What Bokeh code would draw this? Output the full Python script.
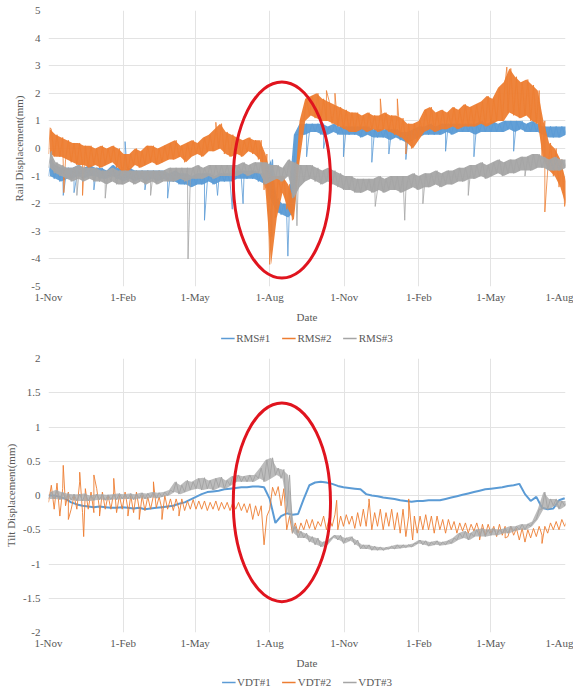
import pandas as pd
from bokeh.plotting import figure
from bokeh.models import (FixedTicker, Legend, LegendItem, Range1d,
                          CustomJSTickFormatter)
from bokeh.layouts import column
from bokeh.embed import file_html
from bokeh.resources import INLINE

# ---------------- data ----------------
START_DATE = "2016-11-01"
END_DATE = "2018-08-01"

tick_dates = ["2016-11-01", "2017-02-01", "2017-05-01", "2017-08-01",
              "2017-11-01", "2018-02-01", "2018-05-01", "2018-08-01"]
tick_labels = ["1-Nov", "1-Feb", "1-May", "1-Aug",
               "1-Nov", "1-Feb", "1-May", "1-Aug"]

rms_yticks = [-5, -4, -3, -2, -1, 0, 1, 2, 3, 4, 5]
vdt_yticks = [-2, -1.5, -1, -0.5, 0, 0.5, 1, 1.5, 2]

rms_names = ["RMS#1", "RMS#2", "RMS#3"]
vdt_names = ["VDT#1", "VDT#2", "VDT#3"]

# weekly (from 1-Nov) lower / upper envelope of each noisy record
rms1_lo = [-1.0, -1.1, -1.2, -1.1, -1.1, -1.0, -1.1, -1.0, -1.0, -1.1,
           -1.1, -1.0, -1.1, -1.2, -1.1, -1.2, -1.1, -1.2, -1.1, -1.2,
           -1.1, -1.2, -1.2, -1.3, -1.3, -1.4, -1.3, -1.3, -1.2, -1.3,
           -1.2, -1.2, -1.2, -1.1, -1.1, -1.1, -1.1, -1.2, -1.3, -1.9,
           -2.3, -2.4, -2.5, -2.3, 0.5, 0.5, 0.6, 0.6, 0.5, 0.5,
           0.6, 0.5, 0.5, 0.5, 0.5, 0.4, 0.5, 0.4, 0.4, 0.4,
           0.3, 0.4, 0.3, 0.2, 0.3, 0.4, 0.5, 0.5, 0.5, 0.5,
           0.6, 0.5, 0.6, 0.6, 0.6, 0.5, 0.6, 0.6, 0.6, 0.6,
           0.6, 0.7, 0.6, 0.7, 0.6, 0.6, 0.6, 0.5, 0.4, 0.4,
           0.4, 0.5]
rms1_hi = [-0.4, -0.6, -0.7, -0.7, -0.7, -0.6, -0.7, -0.6, -0.7, -0.7,
           -0.8, -0.6, -0.7, -0.8, -0.7, -0.8, -0.8, -0.8, -0.8, -0.8,
           -0.8, -0.9, -0.8, -0.9, -0.9, -1.0, -0.9, -0.9, -0.9, -1.0,
           -0.9, -0.9, -0.9, -0.8, -0.8, -0.8, -0.8, -0.9, -0.9, -0.4,
           -1.8, -2.0, -2.0, 0.5, 0.9, 0.9, 0.9, 0.9, 0.9, 0.8,
           0.9, 0.8, 0.8, 0.8, 0.8, 0.8, 0.8, 0.7, 0.7, 0.7,
           0.7, 0.7, 0.6, 0.6, 0.7, 0.8, 0.8, 0.9, 0.8, 0.9,
           0.9, 0.9, 0.9, 0.9, 0.9, 0.9, 1.0, 0.9, 1.0, 0.9,
           1.0, 1.0, 1.0, 1.0, 0.9, 1.0, 0.9, 0.8, 0.8, 0.8,
           0.8, 0.8]
rms1_spike_wk = [2.6, 4.5, 8.0, 13.5, 17.0, 21.0, 27.5, 29.8, 32.4, 34.3,
                 39.4, 42.2, 45.5, 48.5, 52.0, 57.0, 60.0, 63.0, 70.0, 75.0, 82.0]
rms1_spike_val = [-1.7, -1.6, -1.5, 0.25, -1.5, -1.8, -2.6, -1.7, -2.2, -2.0,
                  -3.2, -3.9, -0.3, 0.0, -0.3, -0.5, -0.2, -0.4, -0.1, -0.3, -0.1]

rms2_lo = [-0.2, -0.3, -0.3, -0.4, -0.5, -0.6, -0.6, -0.7, -0.6, -0.7,
           -0.6, -0.5, -0.7, -0.9, -0.8, -0.6, -0.7, -0.6, -0.5, -0.6,
           -0.5, -0.4, -0.4, -0.3, -0.5, -0.3, -0.2, -0.3, -0.1, -0.1,
           0.0, -0.2, -0.3, -0.2, -0.3, -0.1, -0.2, -0.4, -1.5, -4.2,
           -2.5, -1.6, -2.2, -2.6, -0.5, 1.0, 1.2, 1.1, 1.0, 1.0,
           0.9, 0.8, 0.7, 0.6, 0.6, 0.7, 0.6, 0.7, 0.6, 0.7,
           0.6, 0.5, 0.4, 0.2, 0.0, 0.3, 0.6, 0.7, 0.6, 0.7,
           0.7, 0.8, 0.7, 0.8, 0.8, 0.8, 0.9, 0.8, 0.9, 1.0,
           1.0, 1.3, 1.2, 1.1, 1.2, 1.0, 0.9, -0.4, -0.8, -1.0,
           -1.4, -2.1]
rms2_hi = [0.7, 0.5, 0.4, 0.3, 0.2, 0.2, 0.1, 0.1, 0.0, 0.1,
           0.0, 0.1, 0.0, -0.2, -0.2, 0.0, -0.1, 0.1, 0.1, 0.0,
           0.1, 0.2, 0.3, 0.1, 0.2, 0.3, 0.2, 0.4, 0.5, 0.7,
           0.9, 0.6, 0.5, 0.4, 0.3, 0.4, 0.3, 0.3, -0.2, -1.0,
           -1.0, -1.0, -1.3, -1.8, 1.0, 1.8, 1.9, 2.0, 1.8, 1.7,
           1.6, 1.5, 1.4, 1.3, 1.3, 1.2, 1.3, 1.2, 1.2, 1.3,
           1.2, 1.2, 1.1, 0.9, 0.9, 1.0, 1.4, 1.5, 1.3, 1.4,
           1.3, 1.5, 1.4, 1.6, 1.5, 1.6, 1.7, 1.9, 1.8, 2.2,
           2.4, 2.9, 2.6, 2.4, 2.5, 2.3, 2.1, 1.0, 0.2, 0.0,
           -0.4, -1.2]
rms2_spike_wk = [0.3, 2.7, 6.0, 13.0, 29.5, 49.0, 50.5, 58.5, 61.5, 63.0, 80.8, 87.5]
rms2_spike_val = [0.75, -1.6, -1.7, -1.0, 0.95, 2.1, 2.0, 1.8, 1.8, -0.2, 2.95, -2.3]

rms3_lo = [-0.7, -0.9, -1.0, -1.1, -1.2, -1.1, -1.2, -1.1, -1.2, -1.2,
           -1.3, -1.2, -1.3, -1.3, -1.2, -1.3, -1.2, -1.3, -1.2, -1.3,
           -1.2, -1.2, -1.2, -1.1, -1.2, -1.1, -1.1, -1.1, -1.0, -1.1,
           -1.0, -1.0, -1.0, -1.0, -0.9, -1.0, -0.9, -0.9, -1.3, -1.2,
           -1.1, -1.2, -1.0, -1.8, -1.4, -1.2, -1.1, -1.2, -1.3, -1.2,
           -1.3, -1.4, -1.5, -1.5, -1.6, -1.6, -1.5, -1.6, -1.5, -1.6,
           -1.5, -1.5, -1.6, -1.5, -1.4, -1.5, -1.4, -1.4, -1.3, -1.4,
           -1.3, -1.3, -1.2, -1.2, -1.1, -1.1, -1.0, -1.1, -1.0, -0.9,
           -1.0, -0.9, -0.9, -0.8, -0.8, -0.8, -0.7, -0.7, -0.8, -0.8,
           -0.8, -0.7]
rms3_hi = [-0.1, -0.5, -0.6, -0.7, -0.7, -0.6, -0.7, -0.7, -0.7, -0.8,
           -0.8, -0.7, -0.8, -0.8, -0.8, -0.8, -0.8, -0.8, -0.8, -0.8,
           -0.8, -0.7, -0.7, -0.7, -0.7, -0.7, -0.6, -0.7, -0.6, -0.6,
           -0.6, -0.6, -0.6, -0.6, -0.5, -0.6, -0.5, -0.5, -0.5, -0.6,
           -0.6, -0.7, -0.4, -0.5, -0.6, -0.6, -0.6, -0.7, -0.8, -0.7,
           -0.8, -0.9, -1.0, -1.0, -1.1, -1.1, -1.1, -1.1, -1.0, -1.1,
           -1.0, -1.0, -1.0, -1.0, -0.9, -1.0, -0.9, -0.9, -0.8, -0.9,
           -0.8, -0.8, -0.7, -0.7, -0.6, -0.6, -0.5, -0.6, -0.5, -0.4,
           -0.5, -0.4, -0.4, -0.3, -0.3, -0.2, -0.2, -0.3, -0.4, -0.3,
           -0.4, -0.4]
rms3_spike_wk = [5.0, 10.0, 18.0, 24.6, 43.8, 57.6, 62.8, 66.0, 74.0, 84.0]
rms3_spike_val = [-1.7, -1.8, -1.7, -4.0, -2.8, -2.1, -2.6, -2.0, -1.7, -1.0]

vdt1_val = [0.0, 0.0, -0.02, -0.05, -0.1, -0.13, -0.15, -0.16, -0.17, -0.16,
            -0.17, -0.18, -0.18, -0.17, -0.18, -0.19, -0.18, -0.2, -0.19, -0.18,
            -0.17, -0.16, -0.15, -0.12, -0.1, -0.06, -0.02, 0.02, 0.05, 0.06,
            0.07, 0.09, 0.1, 0.11, 0.12, 0.12, 0.13, 0.13, 0.12, -0.05,
            -0.4, -0.3, -0.26, -0.28, -0.27, -0.05, 0.15, 0.19, 0.2, 0.19,
            0.17, 0.14, 0.12, 0.11, 0.1, 0.09, 0.02, 0.0, -0.01, -0.03,
            -0.04, -0.05, -0.07, -0.08, -0.09, -0.08, -0.08, -0.07, -0.07, -0.07,
            -0.05, -0.03, -0.01, 0.01, 0.03, 0.05, 0.07, 0.09, 0.1, 0.11,
            0.12, 0.14, 0.15, 0.17, 0.02, -0.08, -0.02, -0.18, -0.2, -0.19,
            -0.07, -0.04]

vdt2_lo = [-0.1, -0.2, -0.3, -0.15, -0.2, -0.2, -0.25, -0.2, -0.25, -0.2,
           -0.2, -0.2, -0.25, -0.2, -0.2, -0.25, -0.2, -0.22, -0.2, -0.18,
           -0.2, -0.2, -0.22, -0.2, -0.22, -0.2, -0.2, -0.2, -0.22, -0.2,
           -0.22, -0.2, -0.22, -0.2, -0.22, -0.25, -0.35, -0.3, -0.72, -0.2,
           0.0, -0.15, -0.5, -0.55, -0.55, -0.5, -0.48, -0.5, -0.45, -0.5,
           -0.45, -0.5, -0.45, -0.42, -0.48, -0.45, -0.45, -0.5, -0.45, -0.5,
           -0.45, -0.5, -0.55, -0.6, -0.5, -0.55, -0.5, -0.5, -0.55, -0.5,
           -0.55, -0.5, -0.55, -0.52, -0.55, -0.52, -0.55, -0.58, -0.55, -0.6,
           -0.58, -0.6, -0.58, -0.65, -0.68, -0.62, -0.6, -0.58, -0.55, -0.5,
           -0.5, -0.45]
vdt2_hi = [0.15, 0.18, 0.1, 0.05, 0.0, 0.2, 0.1, 0.05, 0.1, 0.05,
           0.0, 0.05, 0.0, 0.05, 0.0, 0.05, 0.0, -0.02, 0.0, -0.02,
           0.0, -0.05, -0.05, -0.05, -0.08, -0.06, -0.08, -0.08, -0.1, -0.08,
           -0.1, -0.1, -0.1, -0.1, -0.12, -0.12, -0.15, -0.15, -0.3, 0.12,
           0.13, 0.1, -0.3, -0.4, -0.4, -0.35, -0.35, -0.38, -0.3, -0.33,
           -0.28, -0.3, -0.28, -0.3, -0.25, -0.2, -0.1, -0.25, -0.2, -0.25,
           -0.2, -0.25, -0.2, -0.3, -0.3, -0.3, -0.28, -0.3, -0.3, -0.35,
           -0.35, -0.38, -0.4, -0.4, -0.42, -0.4, -0.42, -0.42, -0.45, -0.42,
           -0.45, -0.45, -0.48, -0.48, -0.5, -0.48, -0.45, -0.45, -0.4, -0.38,
           -0.35, -0.35]
vdt2_spike_wk = [2.6, 3.5, 5.5, 6.2, 8.0, 9.0, 11.5, 14.0, 16.0, 18.5, 20.0, 23.0,
                 50.8, 56.5, 63.5, 64.2, 76.0, 80.5, 87.0]
vdt2_spike_val = [0.44, -0.35, 0.34, -0.6, 0.3, -0.3, 0.25, -0.3, -0.35, 0.2, -0.35, -0.3,
                  -0.07, -0.05, -0.05, -0.65, -0.65, -0.62, -0.7]

vdt3_lo = [-0.05, -0.05, -0.06, -0.05, -0.07, -0.08, -0.08, -0.08, -0.07, -0.06,
           -0.07, -0.06, -0.06, -0.05, -0.05, -0.06, -0.04, -0.05, -0.03, -0.04,
           -0.02, 0.0, 0.05, 0.02, 0.05, 0.08, 0.1, 0.08, 0.1, 0.08,
           0.12, 0.1, 0.15, 0.2, 0.2, 0.2, 0.2, 0.25, 0.2, 0.25,
           0.3, 0.25, -0.25, -0.55, -0.62, -0.62, -0.68, -0.72, -0.75, -0.72,
           -0.62, -0.65, -0.7, -0.66, -0.72, -0.78, -0.78, -0.8, -0.8, -0.8,
           -0.78, -0.78, -0.77, -0.76, -0.75, -0.7, -0.72, -0.74, -0.72, -0.73,
           -0.72, -0.7, -0.65, -0.62, -0.65, -0.6, -0.6, -0.6, -0.58, -0.58,
           -0.55, -0.55, -0.52, -0.5, -0.5, -0.45, -0.35, -0.2, -0.2, -0.15,
           -0.2, -0.15]
vdt3_hi = [0.05, 0.08, 0.05, 0.03, 0.02, 0.02, 0.03, 0.0, 0.02, 0.02,
           0.01, 0.02, 0.03, 0.02, 0.03, 0.02, 0.04, 0.03, 0.05, 0.04,
           0.05, 0.08, 0.2, 0.15, 0.22, 0.2, 0.25, 0.26, 0.22, 0.25,
           0.27, 0.22, 0.28, 0.3, 0.28, 0.3, 0.3, 0.4, 0.52, 0.55,
           0.4, 0.38, 0.3, -0.45, -0.52, -0.55, -0.6, -0.62, -0.68, -0.65,
           -0.58, -0.58, -0.62, -0.6, -0.65, -0.72, -0.72, -0.74, -0.75, -0.76,
           -0.74, -0.72, -0.72, -0.72, -0.7, -0.65, -0.66, -0.68, -0.66, -0.68,
           -0.66, -0.62, -0.55, -0.52, -0.55, -0.5, -0.48, -0.5, -0.48, -0.5,
           -0.48, -0.45, -0.45, -0.42, -0.42, -0.38, -0.2, 0.05, -0.05, -0.05,
           -0.08, -0.08]

# highlighted period (red ellipses)
highlight_date = "2017-08-16"
highlight_span_days = 120
rms_highlight = (-1.14, 7.1)   # centre value, height
vdt_highlight = (-0.10, 2.9)

# ---------------- drawing ----------------
start = pd.Timestamp(START_DATE)


def day_of(d):
    return (pd.Timestamp(d) - start).days


x_end = day_of(END_DATE)
tick_days = [day_of(d) for d in tick_dates]
wk_x = [i * 7.0 for i in range(len(vdt1_val))]

FONT = "Liberation Serif"
TXT = "#595959"
GRID = "#E3E3E3"
BLUE, ORANGE, GRAY = "#5B9BD5", "#ED7D31", "#A5A5A5"
COLORS = [BLUE, ORANGE, GRAY]
RED = "#E0141E"
W = 573


def zigzag(lo, hi, spk_w=(), spk_v=()):
    pts = []
    for i, (a, b) in enumerate(zip(lo, hi)):
        pts.append((i * 7.0, a))
        pts.append((i * 7.0 + 3.5, b))
    for w, v in zip(spk_w, spk_v):
        pts.append((w * 7.0, v))
    pts.sort(key=lambda t: t[0])
    return [t[0] for t in pts], [t[1] for t in pts]


def make_fig(yticks, ylabel, height, top_border, bottom_border):
    p = figure(width=W, height=height,
               x_range=Range1d(0, x_end),
               y_range=Range1d(yticks[0], yticks[-1]),
               output_backend="svg", toolbar_location=None,
               min_border_left=48, min_border_right=8,
               min_border_top=top_border, min_border_bottom=bottom_border)
    p.outline_line_color = None
    p.background_fill_color = "white"
    xt = FixedTicker(ticks=tick_days)
    yt = FixedTicker(ticks=yticks)
    p.xaxis.ticker = xt
    p.yaxis.ticker = yt
    p.xgrid.ticker = xt
    p.ygrid.ticker = yt
    p.xaxis.major_label_overrides = {d: l for d, l in zip(tick_days, tick_labels)}
    p.yaxis.formatter = CustomJSTickFormatter(
        code="return String(Math.round(tick * 10) / 10);")
    for g in (p.xgrid, p.ygrid):
        g.grid_line_color = GRID
        g.grid_line_width = 1
    for ax in (p.xaxis, p.yaxis):
        ax.axis_line_color = None
        ax.major_tick_line_color = None
        ax.minor_tick_line_color = None
        ax.major_tick_out = 0
        ax.major_tick_in = 0
        ax.minor_tick_out = 0
        ax.minor_tick_in = 0
        ax.major_label_text_font = FONT
        ax.major_label_text_font_size = "11px"
        ax.major_label_text_color = TXT
        ax.axis_label_text_font = FONT
        ax.axis_label_text_font_size = "11px"
        ax.axis_label_text_font_style = "normal"
        ax.axis_label_text_color = TXT
    p.xaxis.axis_label = "Date"
    p.xaxis.major_label_standoff = 4
    p.xaxis.axis_label_standoff = 5
    p.yaxis.axis_label = ylabel
    p.yaxis.major_label_standoff = 8
    p.yaxis.axis_label_standoff = 3
    return p


def legend_fig(names, proxies, height):
    # proxies: one data series per legend entry; the visible window lies outside the data
    q = figure(width=W, height=height, x_range=Range1d(-20, -10), y_range=Range1d(0, 1),
               output_backend="svg", toolbar_location=None, min_border=0)
    q.xaxis.visible = False
    q.yaxis.visible = False
    q.xgrid.visible = False
    q.ygrid.visible = False
    q.outline_line_color = None
    rs = [q.line(x=wk_x, y=ys, line_color=c, line_width=1.5) for ys, c in zip(proxies, COLORS)]
    legend = Legend(items=[LegendItem(label=n, renderers=[r]) for n, r in zip(names, rs)],
                    orientation="horizontal", location="center",
                    label_text_font=FONT, label_text_font_size="11px",
                    label_text_color=TXT, glyph_width=14, glyph_height=10,
                    label_standoff=2, spacing=11, padding=2, margin=0,
                    border_line_color=None, background_fill_alpha=0)
    q.add_layout(legend)
    return q


def noisy(p, lo, hi, sw, sv, c, alpha=0.95, lw=0.8):
    bx = [i * 7.0 + 1.75 for i in range(len(lo))]
    p.varea(x=bx, y1=lo, y2=hi, fill_color=c, fill_alpha=alpha)
    xs, ys = zigzag(lo, hi, sw, sv)
    return p.line(xs, ys, line_color=c, line_width=lw)


# top chart
p1 = make_fig(rms_yticks, "Rail Displacement(mm)", 325, 10, 38)
noisy(p1, rms1_lo, rms1_hi, rms1_spike_wk, rms1_spike_val, BLUE)
noisy(p1, rms2_lo, rms2_hi, rms2_spike_wk, rms2_spike_val, ORANGE)
noisy(p1, rms3_lo, rms3_hi, rms3_spike_wk, rms3_spike_val, GRAY)
p1.ellipse(x=[day_of(highlight_date)], y=[rms_highlight[0]],
           width=[highlight_span_days], height=[rms_highlight[1]],
           fill_color=None, line_color=RED, line_width=3)
l1 = legend_fig(rms_names, [rms1_lo, rms2_lo, rms3_lo], 25)

# bottom chart
p2 = make_fig(vdt_yticks, "Tilt Displacement(mm)", 321, 8, 38)
p2.line(wk_x, vdt1_val, line_color=BLUE, line_width=2)
xs2, ys2 = zigzag(vdt2_lo, vdt2_hi, vdt2_spike_wk, vdt2_spike_val)
p2.line(xs2, ys2, line_color=ORANGE, line_width=0.9)
noisy(p2, vdt3_lo, vdt3_hi, (), (), GRAY, alpha=0.75, lw=1.0)
p2.ellipse(x=[day_of(highlight_date)], y=[vdt_highlight[0]],
           width=[highlight_span_days], height=[vdt_highlight[1]],
           fill_color=None, line_color=RED, line_width=3)
l2 = legend_fig(vdt_names, [vdt1_val, vdt2_lo, vdt3_lo], 22)

layout = column(p1, l1, p2, l2, spacing=0)
open("out.html", "w").write(file_html(layout, INLINE))
